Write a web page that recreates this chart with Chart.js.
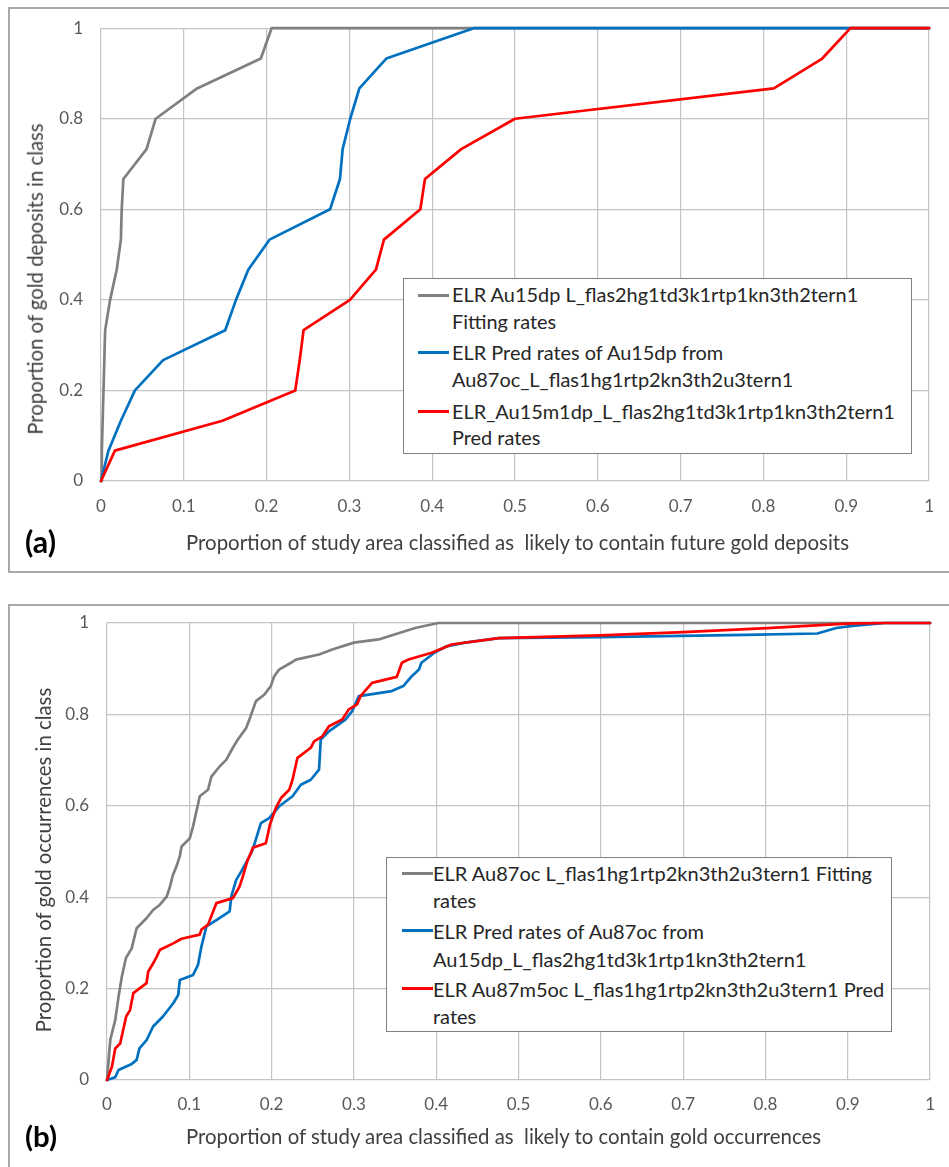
<!DOCTYPE html>
<html><head><meta charset="utf-8">
<script src="https://cdn.jsdelivr.net/npm/chart.js@4"></script>
<style>
html,body{margin:0;padding:0;background:#fff}
body{width:949px;height:1167px;overflow:hidden;position:relative;font-family:Lato,'Open Sans',sans-serif}
.panel{position:absolute;border:2px solid #a8a8a8;box-sizing:border-box}
canvas{position:absolute;left:0}
.t{position:absolute;white-space:nowrap;color:#404040;line-height:1}
.leg{position:absolute;border:1.5px solid #808080;background:#fff;box-sizing:border-box}
.sw{position:absolute;height:3px}
</style></head><body>
<div class="panel" style="left:8px;top:7px;width:980px;height:566px"></div>
<div class="panel" style="left:8px;top:604px;width:980px;height:620px"></div>
<canvas id="ca" width="949" height="580" style="top:0"></canvas>
<canvas id="cb" width="949" height="577" style="top:590px"></canvas>
<script>
// ---------- tick labels ----------
const xTickLabels = ['0','0.1','0.2','0.3','0.4','0.5','0.6','0.7','0.8','0.9','1'];
const yTickLabels = ['0','0.2','0.4','0.6','0.8','1'];

// ---------- panel (a) ----------
const grayAX = [0,0.001,0.002,0.003,0.004,0.005,0.011,0.019,0.024,0.025,0.027,0.055,0.066,0.116,0.193,0.206,1];
const grayAY = [0,0.067,0.133,0.2,0.267,0.333,0.4,0.467,0.533,0.6,0.667,0.733,0.8,0.867,0.933,1,1];
const blueAX = [0,0.009,0.024,0.041,0.075,0.15,0.163,0.178,0.2035,0.2766,0.2886,0.2918,0.301,0.312,0.3445,0.45,1];
const blueAY = [0,0.067,0.133,0.2,0.267,0.333,0.4,0.467,0.533,0.6,0.667,0.733,0.8,0.867,0.933,1,1];
const redAX  = [0,0.0168,0.1467,0.2346,0.240,0.2446,0.3006,0.332,0.3417,0.3857,0.3912,0.435,0.5,0.8125,0.871,0.905,1];
const redAY  = [0,0.067,0.133,0.2,0.267,0.333,0.4,0.467,0.533,0.6,0.667,0.733,0.8,0.867,0.933,1,1];
const legendA = [
  ['ELR Au15dp L_flas2hg1td3k1rtp1kn3th2tern1','Fitting rates'],
  ['ELR Pred rates of Au15dp from','Au87oc_L_flas1hg1rtp2kn3th2u3tern1'],
  ['ELR_Au15m1dp_L_flas2hg1td3k1rtp1kn3th2tern1','Pred rates']
];
const xTitleA = 'Proportion of study area classified as\u00a0 likely to contain future gold deposits';
const yTitleA = 'Proportion of gold deposits in class';

// ---------- panel (b) ----------
const grayBX = [0,0.002,0.004,0.010,0.014,0.018,0.023,0.030,0.036,0.048,0.056,0.064,0.0725,0.0765,0.080,0.0845,0.0885,0.0906,0.1006,0.1046,0.1127,0.1227,0.1268,0.1368,0.145,0.1529,0.159,0.169,0.173,0.181,0.191,0.199,0.203,0.209,0.2235,0.2295,0.2576,0.2737,0.3,0.33,0.3744,0.4025,1];
const grayBY = [0,0.044,0.088,0.131,0.182,0.226,0.267,0.288,0.332,0.354,0.372,0.383,0.401,0.423,0.448,0.468,0.49,0.511,0.529,0.555,0.621,0.635,0.664,0.686,0.701,0.727,0.745,0.77,0.789,0.829,0.843,0.862,0.883,0.898,0.913,0.92,0.931,0.942,0.957,0.964,0.989,1,1];
const blueBX = [0,0.010,0.014,0.030,0.036,0.0394,0.0483,0.056,0.068,0.0805,0.0865,0.0885,0.1046,0.1106,0.1147,0.1208,0.1329,0.149,0.151,0.157,0.163,0.171,0.177,0.187,0.197,0.2093,0.2254,0.2355,0.2476,0.2576,0.2597,0.2697,0.29,0.2978,0.306,0.346,0.36,0.37,0.379,0.382,0.3986,0.4125,0.4348,0.476,0.599,0.776,0.863,0.886,0.903,0.945,1];
const blueBY = [0,0.006,0.022,0.035,0.044,0.069,0.088,0.117,0.139,0.168,0.186,0.219,0.230,0.252,0.292,0.336,0.350,0.369,0.402,0.438,0.456,0.482,0.504,0.562,0.573,0.599,0.621,0.646,0.657,0.679,0.745,0.763,0.789,0.807,0.840,0.851,0.862,0.883,0.898,0.913,0.936,0.949,0.957,0.967,0.969,0.974,0.977,0.989,0.993,1,1];
const redBX  = [0,0.006,0.010,0.016,0.0233,0.028,0.032,0.040,0.048,0.050,0.0563,0.0604,0.0644,0.0805,0.0906,0.1127,0.1147,0.1227,0.1329,0.153,0.161,0.165,0.171,0.175,0.177,0.193,0.198,0.205,0.2114,0.2214,0.2254,0.2314,0.2476,0.2516,0.2616,0.2697,0.2858,0.2938,0.3039,0.308,0.322,0.352,0.3583,0.3663,0.3945,0.4186,0.476,0.599,0.70,0.802,0.899,0.945,1];
const redBY  = [0,0.029,0.069,0.080,0.139,0.153,0.190,0.201,0.212,0.237,0.256,0.270,0.285,0.299,0.309,0.318,0.329,0.340,0.387,0.398,0.423,0.445,0.482,0.497,0.508,0.518,0.559,0.595,0.617,0.635,0.657,0.705,0.727,0.741,0.752,0.774,0.789,0.811,0.822,0.840,0.869,0.882,0.913,0.920,0.935,0.953,0.967,0.973,0.980,0.989,0.9985,1,1];
const legendB = [
  ['ELR Au87oc L_flas1hg1rtp2kn3th2u3tern1 Fitting','rates'],
  ['ELR Pred rates of Au87oc from','Au15dp_L_flas2hg1td3k1rtp1kn3th2tern1'],
  ['ELR Au87m5oc L_flas1hg1rtp2kn3th2u3tern1 Pred','rates']
];
const xTitleB = 'Proportion of study area classified as\u00a0 likely to contain gold occurrences';
const yTitleB = 'Proportion of gold occurrences in class';

const colors = ['#7f7f7f','#0070c0','#ff0000'];
const FONT = 'Lato';

const mctx = document.createElement('canvas').getContext('2d');
function fit(text, target, weight){
  mctx.font = (weight||'normal') + ' 100px ' + FONT;
  return 100 * target / mctx.measureText(text).width;
}

function makeChart(id, xsList, ysList, g){
  const ds = xsList.map((xs,i)=>({
    label: 's'+i,
    data: xs.map((x,j)=>({x:x, y:ysList[i][j]})),
    showLine:true, borderColor:colors[i], backgroundColor:colors[i],
    borderWidth:2.7, pointRadius:0, pointHoverRadius:0, tension:0,
    order: 3-i, clip:false, borderJoinStyle:'round', borderCapStyle:'round'
  }));
  new Chart(document.getElementById(id), {
    type:'scatter',
    data:{datasets:ds},
    options:{
      responsive:false, animation:false, events:[],
      layout:{padding:{top:g.top,right:g.right,left:0,bottom:0}},
      plugins:{legend:{display:false},tooltip:{enabled:false}},
      scales:{
        x:{type:'linear',min:0,max:1,
          afterFit(s){s.height=g.xh;},
          ticks:{stepSize:0.1,autoSkip:false,maxRotation:0,padding:g.xpad,color:'#595959',
            font:{family:FONT,size:g.tick},callback:(v,i)=>xTickLabels[i]},
          grid:{color:'#c4c4c4',lineWidth:1.2,drawTicks:false},border:{display:false}},
        y:{type:'linear',min:0,max:1,
          afterFit(s){s.width=g.yw;},
          ticks:{stepSize:0.2,autoSkip:false,padding:g.ypad,color:'#595959',
            font:{family:FONT,size:g.tick},callback:(v,i)=>yTickLabels[i]},
          grid:{color:'#c4c4c4',lineWidth:1.2,drawTicks:false},border:{display:false}}
      }
    }
  });
}

makeChart('ca',[grayAX,blueAX,redAX],[grayAY,blueAY,redAY],{top:28,right:13,xh:99,yw:101,xpad:15,ypad:18,tick:17});
makeChart('cb',[grayBX,blueBX,redBX],[grayBY,blueBY,redBY],{top:33,right:14,xh:87,yw:107,xpad:14,ypad:18,tick:17});

function addText(txt, cx, cy, size, opts){
  const d = document.createElement('div');
  d.className='t'; d.textContent = txt;
  d.style.fontSize = size+'px';
  d.style.left = cx+'px'; d.style.top = cy+'px';
  let tr = 'translate(-50%,-50%)';
  if(opts && opts.rot) tr += ' rotate(-90deg)';
  d.style.transform = tr;
  if(opts && opts.bold){d.style.fontWeight='bold'; d.style.color='#000';}
  document.body.appendChild(d);
}
// axis titles
addText(xTitleA, 517.5, 541.5, fit(xTitleA,665));
addText(yTitleA, 35, 279, fit(yTitleA,312), {rot:true});
addText(xTitleB, 503.5, 1135.5, fit(xTitleB,637));
addText(yTitleB, 43, 859.5, fit(yTitleB,345), {rot:true});
addText('(a)', 40.5, 541, fit('(a)',31,'bold'), {bold:true});
addText('(b)', 41, 1136, fit('(b)',32,'bold'), {bold:true});

function buildLegend(lines, box, ys, sx0, sx1, tx, target){
  const b = document.createElement('div');
  b.className='leg';
  b.style.left=box[0]+'px'; b.style.top=box[1]+'px';
  b.style.width=(box[2]-box[0])+'px'; b.style.height=(box[3]-box[1])+'px';
  document.body.appendChild(b);
  const size = fit(lines[0][0], target);
  let k=0;
  lines.forEach((entry,i)=>{
    const sw=document.createElement('div');
    sw.className='sw'; sw.style.background=colors[i];
    sw.style.left=sx0+'px'; sw.style.width=(sx1-sx0)+'px'; sw.style.top=(ys[k]-1.5)+'px';
    document.body.appendChild(sw);
    entry.forEach(line=>{
      const d=document.createElement('div');
      d.className='t'; d.textContent=line; d.style.color='#262626';
      d.style.fontSize=size+'px'; d.style.left=tx+'px'; d.style.top=ys[k]+'px';
      d.style.transform='translateY(-50%)';
      document.body.appendChild(d);
      k++;
    });
  });
}
buildLegend(legendA,[403,278,912,454],[295,321.7,352.7,380,411.7,438.3],418,449,452,407);
buildLegend(legendB,[386,857,892,1032],[873.3,900,930.8,958.6,988.7,1016],402,433,433,440);
</script>
</body></html>
